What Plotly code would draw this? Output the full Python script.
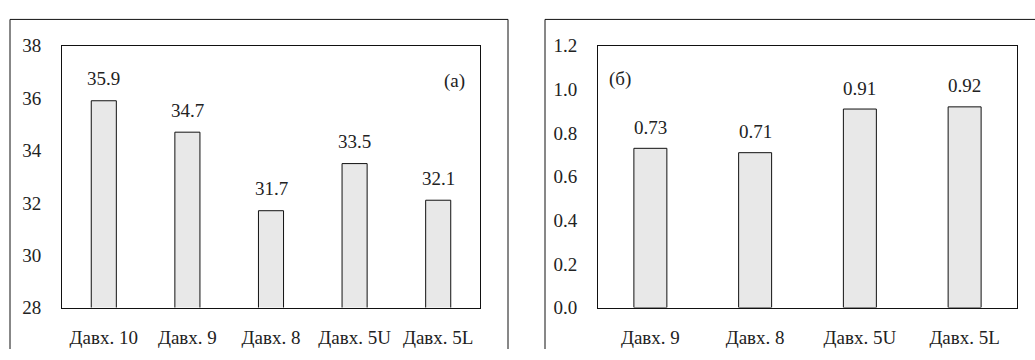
import plotly.graph_objects as go

W, H = 1035, 360

cats_a = ["Давх. 10", "Давх. 9", "Давх. 8", "Давх. 5U", "Давх. 5L"]
vals_a = [35.9, 34.7, 31.7, 33.5, 32.1]
labels_a = ["35.9", "34.7", "31.7", "33.5", "32.1"]

cats_b = ["Давх. 9", "Давх. 8", "Давх. 5U", "Давх. 5L"]
vals_b = [0.73, 0.71, 0.91, 0.92]
labels_b = ["0.73", "0.71", "0.91", "0.92"]

FONT = "Liberation Serif"
TXT = "#222222"
FS = 19

def px_x(p):
    return p / W

def px_y(p):
    return 1 - p / H

fig = go.Figure()
fig.add_trace(go.Bar(x=cats_a, y=vals_a, xaxis="x", yaxis="y",
                     marker=dict(color="#e8e8e8", line=dict(color="#111111", width=1)),
                     width=0.3, showlegend=False, hoverinfo="skip"))
fig.add_trace(go.Bar(x=cats_b, y=vals_b, xaxis="x2", yaxis="y2",
                     marker=dict(color="#e8e8e8", line=dict(color="#111111", width=1)),
                     width=0.315, showlegend=False, hoverinfo="skip"))

annotations = []
for c, v, t in zip(cats_a, vals_a, labels_a):
    annotations.append(dict(x=c, y=v, xref="x", yref="y", text=t, showarrow=False,
                            yshift=22, font=dict(family=FONT, size=FS, color=TXT)))
for c, v, t in zip(cats_b, vals_b, labels_b):
    annotations.append(dict(x=c, y=v, xref="x2", yref="y2", text=t, showarrow=False,
                            yshift=21, font=dict(family=FONT, size=FS, color=TXT)))
annotations.append(dict(x=px_x(454), y=px_y(62), xref="paper", yref="paper", text="(a)",
                        showarrow=False, font=dict(family=FONT, size=FS, color=TXT)))
annotations.append(dict(x=px_x(620), y=px_y(60), xref="paper", yref="paper", text="(б)",
                        showarrow=False, font=dict(family=FONT, size=FS, color=TXT)))

ydom = [px_y(316), px_y(38)]
axis_common = dict(showline=True, linecolor="#111111", linewidth=1, mirror=True,
                   showgrid=False, zeroline=False, ticks="",
                   tickfont=dict(family=FONT, size=FS, color=TXT))

frame = dict(color="#111111", width=1)
shapes = [
    # left panel frame (bottom cut off)
    dict(type="line", xref="paper", yref="paper", x0=px_x(10), x1=px_x(10), y0=0, y1=px_y(10), line=frame),
    dict(type="line", xref="paper", yref="paper", x0=px_x(10), x1=px_x(508), y0=px_y(10), y1=px_y(10), line=frame),
    dict(type="line", xref="paper", yref="paper", x0=px_x(508), x1=px_x(508), y0=0, y1=px_y(10), line=frame),
    # right panel frame (right and bottom cut off)
    dict(type="line", xref="paper", yref="paper", x0=px_x(545), x1=px_x(545), y0=0, y1=px_y(10), line=frame),
    dict(type="line", xref="paper", yref="paper", x0=px_x(545), x1=1, y0=px_y(10), y1=px_y(10), line=frame),
]

fig.update_layout(
    width=W, height=H, autosize=False,
    margin=dict(l=0, r=0, t=0, b=0),
    font=dict(family=FONT, size=FS, color=TXT),
    paper_bgcolor="white", plot_bgcolor="white",
    xaxis=dict(domain=[px_x(62), px_x(480)], anchor="y", ticklabelstandoff=13, **axis_common),
    yaxis=dict(domain=ydom, anchor="x", range=[28, 38], dtick=2, tick0=28,
               ticklabelstandoff=16, **axis_common),
    xaxis2=dict(domain=[px_x(598), px_x(1017)], anchor="y2", ticklabelstandoff=13, **axis_common),
    yaxis2=dict(domain=ydom, anchor="x2", range=[0, 1.2], dtick=0.2, tick0=0,
                tickformat=".1f", ticklabelstandoff=16, **axis_common),
    annotations=annotations,
    shapes=shapes,
)

fig.write_html("out.html", config={"displayModeBar": False},
               post_script="document.body.style.margin='0';document.body.style.overflow='hidden';")
